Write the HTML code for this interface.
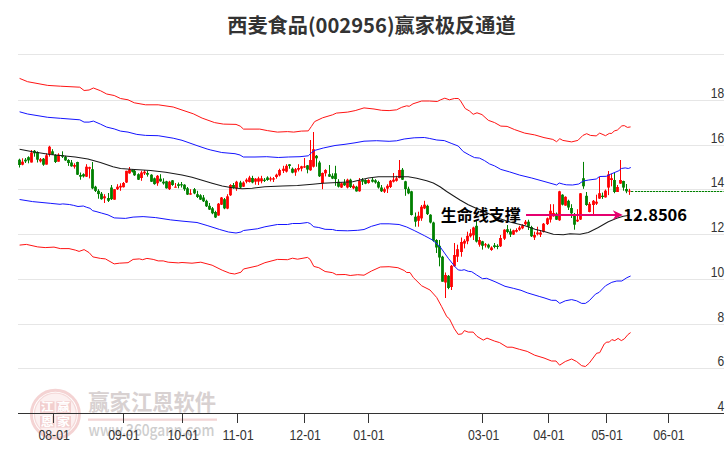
<!DOCTYPE html>
<html lang="zh"><head><meta charset="utf-8"><title>西麦食品(002956)赢家极反通道</title>
<style>
html,body{margin:0;padding:0;background:#fff;}
body{width:726px;height:450px;overflow:hidden;}
svg{display:block;}
.t{font-family:"Liberation Sans","Noto Sans CJK SC",sans-serif;}
.c{font-family:"Noto Sans CJK SC","Liberation Sans",sans-serif;}
</style></head><body>
<svg width="726" height="450" viewBox="0 0 726 450">
<rect width="726" height="450" fill="#fff"/>

<g fill="#e6e6e6">
<rect x="18" y="54" width="706" height="1"/>
<rect x="18" y="100" width="706" height="1"/>
<rect x="18" y="145" width="706" height="1"/>
<rect x="18" y="189" width="706" height="1"/>
<rect x="18" y="234" width="706" height="1"/>
<rect x="18" y="279" width="706" height="1"/>
<rect x="18" y="324" width="706" height="1"/>
<rect x="18" y="368" width="706" height="1"/>
</g>
<g id="wm">
<circle cx="55.4" cy="414.2" r="24" fill="none" stroke="#f4d3d3" stroke-width="3"/>
<circle cx="55.4" cy="414.2" r="21" fill="#fcf0f0" stroke="#f5d9d9" stroke-width="1.2"/>
<g fill="#f2cfcf"><rect x="40" y="401.3" width="14.5" height="11.6"/><rect x="56.3" y="401.3" width="14.7" height="11.6"/><rect x="40" y="416" width="14.5" height="11.6"/><rect x="56.3" y="416" width="14.7" height="11.6"/></g>
<g class="c" font-size="13" font-weight="700" fill="#fff" text-anchor="middle" transform="scale(1,0.85)">
<text x="47.3" y="484">江</text><text x="63.6" y="484">赢</text>
<text x="47.3" y="501.3">恩</text><text x="63.6" y="501.3">家</text></g>
<text class="c" x="88.3" y="410" font-size="21.3" font-weight="700" fill="#d8d1d1">赢家江恩软件</text>
<rect x="88" y="418.5" width="129" height="2.3" fill="#f3d6d6"/>
<text class="c" x="88.6" y="436.1" font-size="16.3" font-weight="500" fill="#cecece" textLength="125.8" lengthAdjust="spacingAndGlyphs">www.360gann.com</text>
</g>
<g fill="#ff0000"><rect x="21.1" y="161.7" width="2.8" height="3.0"/><rect x="22.0" y="158.3" width="1" height="7.0"/><rect x="30.1" y="152.5" width="2.8" height="10.0"/><rect x="31.0" y="150.0" width="1" height="12.5"/><rect x="39.1" y="159.2" width="2.8" height="2.2"/><rect x="40.0" y="158.0" width="1" height="4.5"/><rect x="45.1" y="155.3" width="2.8" height="9.3"/><rect x="46.0" y="153.3" width="1" height="11.3"/><rect x="48.1" y="146.7" width="2.8" height="7.5"/><rect x="49.0" y="145.8" width="1" height="10.8"/><rect x="57.1" y="154.7" width="2.8" height="7.0"/><rect x="58.0" y="153.3" width="1" height="8.3"/><rect x="73.1" y="165.0" width="2.8" height="1.7"/><rect x="74.0" y="163.3" width="1" height="5.3"/><rect x="85.1" y="166.7" width="2.8" height="10.0"/><rect x="86.0" y="164.2" width="1" height="12.8"/><rect x="88.1" y="167.2" width="2.8" height="1.5"/><rect x="89.0" y="166.7" width="1" height="11.7"/><rect x="103.1" y="196.3" width="2.8" height="2.0"/><rect x="104.0" y="194.2" width="1" height="8.8"/><rect x="113.1" y="189.2" width="2.8" height="10.5"/><rect x="114.0" y="189.2" width="1" height="10.5"/><rect x="116.1" y="186.7" width="2.8" height="2.5"/><rect x="117.0" y="184.2" width="1" height="5.8"/><rect x="119.1" y="185.8" width="2.8" height="1.7"/><rect x="120.0" y="183.3" width="1" height="7.5"/><rect x="122.1" y="183.0" width="2.8" height="4.2"/><rect x="123.0" y="182.0" width="1" height="5.5"/><rect x="125.1" y="170.8" width="2.8" height="11.7"/><rect x="126.0" y="170.8" width="1" height="12.2"/><rect x="128.1" y="169.2" width="2.8" height="4.2"/><rect x="129.0" y="167.0" width="1" height="6.7"/><rect x="140.1" y="172.5" width="2.8" height="5.5"/><rect x="141.0" y="170.8" width="1" height="10.0"/><rect x="143.1" y="171.7" width="2.8" height="1.7"/><rect x="144.0" y="170.0" width="1" height="5.0"/><rect x="156.1" y="175.8" width="2.8" height="7.5"/><rect x="157.0" y="175.0" width="1" height="10.8"/><rect x="168.1" y="181.7" width="2.8" height="7.5"/><rect x="169.0" y="180.8" width="1" height="9.2"/><rect x="174.1" y="186.7" width="2.8" height="1.0"/><rect x="175.0" y="183.0" width="1" height="4.5"/><rect x="189.1" y="193.3" width="2.8" height="1.3"/><rect x="190.0" y="189.2" width="1" height="5.5"/><rect x="217.1" y="203.7" width="2.8" height="11.8"/><rect x="218.0" y="203.0" width="1" height="12.8"/><rect x="220.1" y="197.5" width="2.8" height="7.2"/><rect x="221.0" y="197.0" width="1" height="8.0"/><rect x="226.1" y="196.3" width="2.8" height="12.3"/><rect x="227.0" y="194.2" width="1" height="15.0"/><rect x="229.1" y="185.0" width="2.8" height="10.3"/><rect x="230.0" y="184.2" width="1" height="11.7"/><rect x="235.1" y="181.7" width="2.8" height="6.7"/><rect x="236.0" y="180.8" width="1" height="10.0"/><rect x="242.1" y="182.5" width="2.8" height="4.2"/><rect x="243.0" y="181.3" width="1" height="5.7"/><rect x="245.1" y="179.7" width="2.8" height="2.0"/><rect x="246.0" y="178.3" width="1" height="5.0"/><rect x="248.1" y="177.5" width="2.8" height="4.5"/><rect x="249.0" y="175.8" width="1" height="6.7"/><rect x="254.1" y="178.7" width="2.8" height="3.0"/><rect x="255.0" y="178.0" width="1" height="6.7"/><rect x="257.1" y="178.3" width="2.8" height="3.3"/><rect x="258.0" y="176.7" width="1" height="8.3"/><rect x="260.1" y="178.3" width="2.8" height="3.0"/><rect x="261.0" y="175.8" width="1" height="7.5"/><rect x="269.1" y="178.3" width="2.8" height="1.3"/><rect x="270.0" y="176.7" width="1" height="4.7"/><rect x="272.1" y="178.3" width="2.8" height="1.3"/><rect x="273.0" y="177.0" width="1" height="5.0"/><rect x="275.1" y="174.7" width="2.8" height="2.3"/><rect x="276.0" y="173.7" width="1" height="5.0"/><rect x="278.1" y="170.0" width="2.8" height="5.3"/><rect x="279.0" y="168.7" width="1" height="7.7"/><rect x="282.1" y="168.7" width="2.8" height="2.2"/><rect x="283.0" y="165.8" width="1" height="7.2"/><rect x="285.1" y="165.8" width="2.8" height="5.8"/><rect x="286.0" y="164.2" width="1" height="8.3"/><rect x="294.1" y="169.2" width="2.8" height="3.3"/><rect x="295.0" y="168.0" width="1" height="7.8"/><rect x="297.1" y="168.0" width="2.8" height="1.7"/><rect x="298.0" y="164.2" width="1" height="7.2"/><rect x="300.1" y="166.3" width="2.8" height="2.3"/><rect x="301.0" y="165.8" width="1" height="5.5"/><rect x="303.1" y="166.3" width="2.8" height="1.2"/><rect x="304.0" y="158.0" width="1" height="10.0"/><rect x="309.1" y="160.0" width="2.8" height="10.3"/><rect x="310.0" y="140.0" width="1" height="30.8"/><rect x="312.1" y="149.2" width="2.8" height="17.5"/><rect x="313.0" y="132.0" width="1" height="35.5"/><rect x="321.1" y="173.0" width="2.8" height="10.3"/><rect x="322.0" y="172.5" width="1" height="16.7"/><rect x="324.1" y="170.0" width="2.8" height="3.3"/><rect x="325.0" y="169.2" width="1" height="7.2"/><rect x="340.1" y="183.3" width="2.8" height="4.2"/><rect x="341.0" y="182.5" width="1" height="5.5"/><rect x="346.1" y="179.7" width="2.8" height="7.8"/><rect x="347.0" y="178.7" width="1" height="9.7"/><rect x="352.1" y="185.8" width="2.8" height="2.5"/><rect x="353.0" y="184.2" width="1" height="5.0"/><rect x="358.1" y="180.8" width="2.8" height="10.5"/><rect x="359.0" y="178.0" width="1" height="13.7"/><rect x="367.1" y="180.0" width="2.8" height="3.0"/><rect x="368.0" y="179.2" width="1" height="4.5"/><rect x="383.1" y="189.2" width="2.8" height="2.5"/><rect x="384.0" y="187.5" width="1" height="5.5"/><rect x="386.1" y="185.8" width="2.8" height="2.8"/><rect x="387.0" y="184.2" width="1" height="8.8"/><rect x="389.1" y="180.8" width="2.8" height="6.2"/><rect x="390.0" y="180.0" width="1" height="8.0"/><rect x="392.1" y="179.7" width="2.8" height="2.0"/><rect x="393.0" y="173.0" width="1" height="9.5"/><rect x="395.1" y="178.3" width="2.8" height="2.5"/><rect x="396.0" y="175.8" width="1" height="5.8"/><rect x="398.1" y="170.0" width="2.8" height="8.0"/><rect x="399.0" y="160.0" width="1" height="18.3"/><rect x="417.1" y="215.8" width="2.8" height="5.0"/><rect x="418.0" y="211.7" width="1" height="15.0"/><rect x="420.1" y="206.7" width="2.8" height="11.7"/><rect x="421.0" y="205.0" width="1" height="15.8"/><rect x="423.1" y="204.7" width="2.8" height="3.7"/><rect x="424.0" y="200.8" width="1" height="8.3"/><rect x="444.1" y="275.0" width="2.8" height="7.5"/><rect x="445.0" y="272.5" width="1" height="25.5"/><rect x="450.1" y="265.8" width="2.8" height="21.2"/><rect x="451.0" y="265.0" width="1" height="25.0"/><rect x="453.1" y="255.0" width="2.8" height="11.3"/><rect x="454.0" y="243.0" width="1" height="23.7"/><rect x="456.1" y="249.2" width="2.8" height="7.5"/><rect x="457.0" y="244.7" width="1" height="17.3"/><rect x="460.1" y="242.0" width="2.8" height="10.0"/><rect x="461.0" y="237.5" width="1" height="19.2"/><rect x="463.1" y="240.8" width="2.8" height="2.8"/><rect x="464.0" y="239.2" width="1" height="9.2"/><rect x="466.1" y="235.8" width="2.8" height="5.5"/><rect x="467.0" y="231.7" width="1" height="12.5"/><rect x="469.1" y="233.3" width="2.8" height="3.0"/><rect x="470.0" y="229.2" width="1" height="8.3"/><rect x="472.1" y="227.5" width="2.8" height="7.8"/><rect x="473.0" y="226.7" width="1" height="13.3"/><rect x="478.1" y="240.0" width="2.8" height="4.7"/><rect x="479.0" y="237.0" width="1" height="9.7"/><rect x="484.1" y="244.2" width="2.8" height="1.2"/><rect x="485.0" y="243.0" width="1" height="4.5"/><rect x="490.1" y="247.5" width="2.8" height="2.5"/><rect x="491.0" y="246.3" width="1" height="4.5"/><rect x="499.1" y="238.0" width="2.8" height="8.3"/><rect x="500.0" y="235.0" width="1" height="12.0"/><rect x="503.1" y="229.7" width="2.8" height="9.0"/><rect x="504.0" y="229.2" width="1" height="10.8"/><rect x="512.1" y="230.3" width="2.8" height="4.3"/><rect x="513.0" y="229.7" width="1" height="5.3"/><rect x="515.1" y="230.0" width="2.8" height="1.7"/><rect x="516.0" y="228.3" width="1" height="4.2"/><rect x="518.1" y="227.5" width="2.8" height="2.2"/><rect x="519.0" y="225.8" width="1" height="5.0"/><rect x="521.1" y="225.3" width="2.8" height="3.0"/><rect x="522.0" y="224.2" width="1" height="5.0"/><rect x="524.1" y="221.7" width="2.8" height="2.5"/><rect x="525.0" y="220.0" width="1" height="5.0"/><rect x="533.1" y="235.0" width="2.8" height="2.5"/><rect x="534.0" y="231.7" width="1" height="8.3"/><rect x="536.1" y="232.5" width="2.8" height="1.7"/><rect x="537.0" y="226.7" width="1" height="8.7"/><rect x="539.1" y="232.5" width="2.8" height="2.2"/><rect x="540.0" y="230.0" width="1" height="7.0"/><rect x="542.1" y="223.7" width="2.8" height="8.0"/><rect x="543.0" y="223.0" width="1" height="9.5"/><rect x="546.1" y="218.3" width="2.8" height="5.8"/><rect x="547.0" y="217.5" width="1" height="7.5"/><rect x="549.1" y="210.8" width="2.8" height="8.8"/><rect x="550.0" y="204.2" width="1" height="18.3"/><rect x="552.1" y="213.0" width="2.8" height="3.3"/><rect x="553.0" y="204.2" width="1" height="12.5"/><rect x="558.1" y="191.3" width="2.8" height="29.0"/><rect x="559.0" y="190.8" width="1" height="30.0"/><rect x="564.1" y="196.8" width="2.8" height="8.8"/><rect x="565.0" y="196.3" width="1" height="9.5"/><rect x="576.1" y="219.7" width="2.8" height="1.7"/><rect x="577.0" y="209.2" width="1" height="12.8"/><rect x="579.1" y="193.3" width="2.8" height="26.3"/><rect x="580.0" y="193.0" width="1" height="27.0"/><rect x="588.1" y="203.8" width="2.8" height="8.2"/><rect x="589.0" y="202.0" width="1" height="10.3"/><rect x="592.1" y="200.8" width="2.8" height="4.2"/><rect x="593.0" y="200.0" width="1" height="14.2"/><rect x="595.1" y="201.7" width="2.8" height="2.0"/><rect x="596.0" y="194.7" width="1" height="10.3"/><rect x="598.1" y="193.2" width="2.8" height="5.4"/><rect x="599.0" y="177.0" width="1" height="21.9"/><rect x="604.1" y="190.7" width="2.8" height="6.7"/><rect x="605.0" y="189.5" width="1" height="8.1"/><rect x="607.1" y="174.4" width="2.8" height="13.2"/><rect x="608.0" y="171.0" width="1" height="24.1"/><rect x="610.1" y="178.2" width="2.8" height="1.8"/><rect x="611.0" y="173.8" width="1" height="12.5"/><rect x="616.1" y="187.0" width="2.8" height="5.0"/><rect x="617.0" y="185.0" width="1" height="7.0"/><rect x="619.1" y="180.0" width="2.8" height="3.6"/><rect x="620.0" y="160.0" width="1" height="23.8"/><rect x="628.1" y="190.7" width="2.8" height="1.0"/><rect x="629.0" y="188.8" width="1" height="6.1"/></g>
<g fill="#008000"><rect x="18.1" y="159.7" width="2.8" height="5.3"/><rect x="19.0" y="158.7" width="1" height="8.8"/><rect x="24.1" y="159.7" width="2.8" height="1.7"/><rect x="25.0" y="158.0" width="1" height="5.0"/><rect x="27.1" y="157.2" width="2.8" height="3.2"/><rect x="28.0" y="156.3" width="1" height="7.0"/><rect x="33.1" y="150.8" width="2.8" height="2.5"/><rect x="34.0" y="150.0" width="1" height="6.7"/><rect x="36.1" y="152.0" width="2.8" height="7.7"/><rect x="37.0" y="151.3" width="1" height="11.2"/><rect x="42.1" y="158.7" width="2.8" height="6.0"/><rect x="43.0" y="158.0" width="1" height="7.8"/><rect x="51.1" y="151.3" width="2.8" height="3.3"/><rect x="52.0" y="149.2" width="1" height="5.8"/><rect x="54.1" y="155.0" width="2.8" height="7.0"/><rect x="55.0" y="154.2" width="1" height="8.8"/><rect x="61.1" y="155.0" width="2.8" height="1.7"/><rect x="62.0" y="151.3" width="1" height="6.7"/><rect x="64.1" y="156.7" width="2.8" height="3.7"/><rect x="65.0" y="155.8" width="1" height="5.0"/><rect x="67.1" y="160.0" width="2.8" height="3.0"/><rect x="68.0" y="159.2" width="1" height="6.7"/><rect x="70.1" y="162.5" width="2.8" height="3.8"/><rect x="71.0" y="160.0" width="1" height="6.7"/><rect x="76.1" y="162.0" width="2.8" height="12.7"/><rect x="77.0" y="161.7" width="1" height="13.3"/><rect x="79.1" y="175.0" width="2.8" height="1.7"/><rect x="80.0" y="172.5" width="1" height="7.2"/><rect x="82.1" y="174.2" width="2.8" height="2.2"/><rect x="83.0" y="173.3" width="1" height="4.2"/><rect x="91.1" y="169.2" width="2.8" height="19.2"/><rect x="92.0" y="162.0" width="1" height="27.2"/><rect x="94.1" y="186.7" width="2.8" height="4.2"/><rect x="95.0" y="185.8" width="1" height="6.2"/><rect x="97.1" y="190.8" width="2.8" height="3.3"/><rect x="98.0" y="189.2" width="1" height="9.5"/><rect x="100.1" y="193.7" width="2.8" height="5.5"/><rect x="101.0" y="192.0" width="1" height="7.7"/><rect x="107.1" y="198.0" width="2.8" height="2.8"/><rect x="108.0" y="193.0" width="1" height="9.0"/><rect x="110.1" y="187.5" width="2.8" height="11.7"/><rect x="111.0" y="185.0" width="1" height="15.0"/><rect x="131.1" y="170.0" width="2.8" height="1.7"/><rect x="132.0" y="169.2" width="1" height="3.3"/><rect x="133.1" y="170.8" width="2.8" height="4.5"/><rect x="134.0" y="169.7" width="1" height="6.2"/><rect x="137.1" y="174.2" width="2.8" height="5.5"/><rect x="138.0" y="173.3" width="1" height="6.7"/><rect x="146.1" y="173.0" width="2.8" height="1.7"/><rect x="147.0" y="170.8" width="1" height="5.8"/><rect x="150.1" y="174.7" width="2.8" height="7.0"/><rect x="151.0" y="174.2" width="1" height="7.8"/><rect x="153.1" y="178.3" width="2.8" height="5.8"/><rect x="154.0" y="177.5" width="1" height="7.2"/><rect x="159.1" y="178.7" width="2.8" height="2.7"/><rect x="160.0" y="174.2" width="1" height="7.5"/><rect x="162.1" y="181.7" width="2.8" height="1.7"/><rect x="163.0" y="178.3" width="1" height="6.3"/><rect x="165.1" y="181.3" width="2.8" height="7.0"/><rect x="166.0" y="180.8" width="1" height="7.8"/><rect x="171.1" y="180.3" width="2.8" height="4.7"/><rect x="172.0" y="180.0" width="1" height="5.8"/><rect x="177.1" y="184.2" width="2.8" height="1.7"/><rect x="178.0" y="182.5" width="1" height="5.8"/><rect x="180.1" y="184.2" width="2.8" height="1.2"/><rect x="181.0" y="182.0" width="1" height="5.5"/><rect x="183.1" y="184.7" width="2.8" height="4.5"/><rect x="184.0" y="184.2" width="1" height="6.7"/><rect x="186.1" y="188.3" width="2.8" height="6.3"/><rect x="187.0" y="187.0" width="1" height="8.0"/><rect x="193.1" y="189.2" width="2.8" height="4.2"/><rect x="194.0" y="188.0" width="1" height="6.2"/><rect x="196.1" y="194.2" width="2.8" height="2.8"/><rect x="197.0" y="190.8" width="1" height="7.2"/><rect x="199.1" y="195.3" width="2.8" height="4.3"/><rect x="200.0" y="194.2" width="1" height="5.8"/><rect x="202.1" y="197.5" width="2.8" height="3.8"/><rect x="203.0" y="195.0" width="1" height="7.0"/><rect x="205.1" y="200.8" width="2.8" height="5.5"/><rect x="206.0" y="199.7" width="1" height="7.3"/><rect x="208.1" y="205.8" width="2.8" height="3.8"/><rect x="209.0" y="203.0" width="1" height="7.0"/><rect x="211.1" y="208.3" width="2.8" height="5.0"/><rect x="212.0" y="207.0" width="1" height="7.2"/><rect x="214.1" y="212.0" width="2.8" height="5.5"/><rect x="215.0" y="210.8" width="1" height="7.2"/><rect x="223.1" y="199.2" width="2.8" height="9.2"/><rect x="224.0" y="198.0" width="1" height="11.2"/><rect x="232.1" y="185.0" width="2.8" height="3.0"/><rect x="233.0" y="183.0" width="1" height="5.7"/><rect x="239.1" y="182.5" width="2.8" height="5.0"/><rect x="240.0" y="180.8" width="1" height="7.5"/><rect x="251.1" y="178.0" width="2.8" height="4.5"/><rect x="252.0" y="175.8" width="1" height="7.5"/><rect x="263.1" y="179.7" width="2.8" height="1.2"/><rect x="264.0" y="178.0" width="1" height="4.0"/><rect x="266.1" y="177.5" width="2.8" height="2.5"/><rect x="267.0" y="176.3" width="1" height="4.5"/><rect x="288.1" y="164.3" width="2.8" height="1.7"/><rect x="289.0" y="164.2" width="1" height="4.5"/><rect x="291.1" y="168.7" width="2.8" height="4.0"/><rect x="292.0" y="167.5" width="1" height="5.8"/><rect x="306.1" y="165.3" width="2.8" height="4.3"/><rect x="307.0" y="165.0" width="1" height="8.3"/><rect x="315.1" y="155.8" width="2.8" height="2.5"/><rect x="316.0" y="155.0" width="1" height="11.7"/><rect x="318.1" y="162.5" width="2.8" height="13.8"/><rect x="319.0" y="160.8" width="1" height="16.2"/><rect x="328.1" y="174.2" width="2.8" height="2.5"/><rect x="329.0" y="165.0" width="1" height="12.0"/><rect x="331.1" y="175.8" width="2.8" height="2.8"/><rect x="332.0" y="173.3" width="1" height="5.8"/><rect x="334.1" y="173.3" width="2.8" height="5.8"/><rect x="335.0" y="165.8" width="1" height="20.0"/><rect x="337.1" y="181.7" width="2.8" height="5.0"/><rect x="338.0" y="179.2" width="1" height="8.3"/><rect x="343.1" y="182.5" width="2.8" height="2.8"/><rect x="344.0" y="179.2" width="1" height="6.7"/><rect x="349.1" y="179.7" width="2.8" height="7.3"/><rect x="350.0" y="178.7" width="1" height="9.3"/><rect x="355.1" y="186.7" width="2.8" height="4.7"/><rect x="356.0" y="185.8" width="1" height="5.8"/><rect x="361.1" y="180.0" width="2.8" height="1.7"/><rect x="362.0" y="178.0" width="1" height="7.0"/><rect x="364.1" y="180.0" width="2.8" height="3.7"/><rect x="365.0" y="179.2" width="1" height="5.0"/><rect x="371.1" y="179.7" width="2.8" height="2.0"/><rect x="372.0" y="177.5" width="1" height="5.0"/><rect x="374.1" y="180.3" width="2.8" height="2.2"/><rect x="375.0" y="179.2" width="1" height="4.5"/><rect x="377.1" y="182.0" width="2.8" height="5.5"/><rect x="378.0" y="180.8" width="1" height="7.8"/><rect x="380.1" y="187.5" width="2.8" height="3.8"/><rect x="381.0" y="185.0" width="1" height="7.0"/><rect x="401.1" y="169.7" width="2.8" height="10.0"/><rect x="402.0" y="168.0" width="1" height="12.0"/><rect x="404.1" y="181.3" width="2.8" height="7.8"/><rect x="405.0" y="180.8" width="1" height="15.0"/><rect x="407.1" y="188.7" width="2.8" height="4.7"/><rect x="408.0" y="186.7" width="1" height="7.5"/><rect x="410.1" y="191.3" width="2.8" height="23.7"/><rect x="411.0" y="190.8" width="1" height="24.7"/><rect x="414.1" y="216.7" width="2.8" height="5.0"/><rect x="415.0" y="212.5" width="1" height="14.2"/><rect x="426.1" y="205.8" width="2.8" height="8.3"/><rect x="427.0" y="204.7" width="1" height="10.3"/><rect x="429.1" y="214.7" width="2.8" height="7.8"/><rect x="430.0" y="214.2" width="1" height="9.2"/><rect x="432.1" y="222.5" width="2.8" height="18.3"/><rect x="433.0" y="221.7" width="1" height="20.0"/><rect x="435.1" y="240.0" width="2.8" height="7.5"/><rect x="436.0" y="239.2" width="1" height="13.8"/><rect x="438.1" y="245.8" width="2.8" height="11.7"/><rect x="439.0" y="240.0" width="1" height="26.3"/><rect x="441.1" y="256.7" width="2.8" height="25.0"/><rect x="442.0" y="255.8" width="1" height="25.9"/><rect x="447.1" y="275.8" width="2.8" height="12.2"/><rect x="448.0" y="275.0" width="1" height="14.2"/><rect x="475.1" y="225.8" width="2.8" height="15.8"/><rect x="476.0" y="220.8" width="1" height="21.7"/><rect x="481.1" y="241.3" width="2.8" height="4.5"/><rect x="482.0" y="240.8" width="1" height="8.8"/><rect x="487.1" y="244.7" width="2.8" height="2.8"/><rect x="488.0" y="243.7" width="1" height="5.0"/><rect x="493.1" y="245.3" width="2.8" height="1.7"/><rect x="494.0" y="243.0" width="1" height="5.3"/><rect x="496.1" y="245.8" width="2.8" height="1.2"/><rect x="497.0" y="244.2" width="1" height="5.0"/><rect x="506.1" y="229.2" width="2.8" height="2.8"/><rect x="507.0" y="225.0" width="1" height="8.3"/><rect x="509.1" y="231.3" width="2.8" height="3.3"/><rect x="510.0" y="228.7" width="1" height="8.3"/><rect x="527.1" y="221.7" width="2.8" height="5.0"/><rect x="528.0" y="219.7" width="1" height="10.3"/><rect x="530.1" y="227.0" width="2.8" height="9.3"/><rect x="531.0" y="225.8" width="1" height="11.2"/><rect x="555.1" y="213.7" width="2.8" height="6.0"/><rect x="556.0" y="212.5" width="1" height="7.5"/><rect x="561.1" y="194.7" width="2.8" height="10.0"/><rect x="562.0" y="194.2" width="1" height="11.2"/><rect x="567.1" y="200.8" width="2.8" height="6.7"/><rect x="568.0" y="199.7" width="1" height="10.3"/><rect x="570.1" y="208.0" width="2.8" height="5.3"/><rect x="571.0" y="204.2" width="1" height="13.8"/><rect x="573.1" y="215.0" width="2.8" height="9.7"/><rect x="574.0" y="213.0" width="1" height="16.7"/><rect x="582.1" y="178.2" width="2.8" height="8.1"/><rect x="583.0" y="161.9" width="1" height="26.9"/><rect x="585.1" y="195.8" width="2.8" height="9.2"/><rect x="586.0" y="192.0" width="1" height="13.8"/><rect x="601.1" y="195.7" width="2.8" height="1.3"/><rect x="602.0" y="192.6" width="1" height="6.3"/><rect x="613.1" y="180.0" width="2.8" height="12.0"/><rect x="614.0" y="172.6" width="1" height="20.6"/><rect x="622.1" y="181.0" width="2.8" height="6.6"/><rect x="623.0" y="180.7" width="1" height="10.0"/><rect x="625.1" y="189.0" width="2.8" height="2.4"/><rect x="626.0" y="184.0" width="1" height="9.2"/></g>
<g fill="none" stroke-width="1" stroke-linejoin="round">
<path d="M19.6,78.4 L27.6,81.7 L47.7,85.4 L60.3,86.2 L79.8,87.2 L84.1,90.5 L89.1,90.0 L93.4,88.0 L100.4,90.7 L106.7,94.0 L114.2,95.5 L120.5,98.5 L128.0,99.8 L134.3,102.8 L145.6,104.8 L158.2,104.8 L173.2,107.0 L182.0,110.0 L193.3,113.8 L202.1,118.1 L214.6,122.6 L223.4,124.1 L236.0,124.4 L240.2,126.1 L243.5,129.1 L259.8,129.1 L267.4,130.6 L277.4,132.1 L287.5,131.6 L293.7,132.1 L301.3,131.1 L308.3,130.9 L311.3,126.6 L314.6,121.6 L322.6,117.8 L332.6,114.8 L336.4,113.1 L347.7,112.1 L355.2,110.6 L364.0,107.9 L374.0,109.0 L381.6,110.3 L389.1,110.6 L396.6,109.8 L401.7,107.3 L406.7,105.8 L409.2,106.3 L413.0,103.8 L421.7,101.0 L429.3,101.0 L437.3,101.5 L440.6,99.8 L444.8,98.2 L449.4,99.8 L454.4,98.5 L458.2,98.5 L460.2,100.3 L465.2,108.5 L469.5,111.0 L473.2,114.3 L477.0,112.8 L482.0,114.6 L488.3,120.3 L494.6,122.6 L500.8,126.1 L507.1,126.4 L514.6,129.6 L524.7,133.1 L534.7,134.9 L544.0,137.6 L552.8,139.4 L556.6,141.7 L559.8,138.7 L562.8,140.4 L571.6,141.9 L577.9,140.4 L582.9,135.4 L586.7,133.7 L590.4,135.4 L596.2,135.9 L599.7,133.1 L605.5,135.7 L609.3,133.4 L611.8,133.4 L614.3,130.9 L617.3,130.1 L621.8,125.9 L624.3,125.6 L627.4,127.4 L630.6,126.9" stroke="#ff1414"/>
<path d="M19.6,245.1 L26.4,244.4 L37.7,246.9 L45.2,247.6 L54.0,247.1 L60.3,248.6 L69.0,248.6 L75.3,250.1 L79.1,251.4 L84.1,249.6 L89.1,252.6 L92.9,256.9 L100.4,258.4 L105.4,258.9 L114.2,263.9 L119.3,263.2 L128.0,262.7 L133.1,259.4 L139.3,258.9 L142.6,259.7 L146.9,258.4 L153.2,259.4 L158.2,260.9 L163.2,260.9 L168.2,262.2 L178.3,262.9 L182.0,262.5 L192.0,263.2 L200.8,262.2 L212.1,265.2 L222.2,270.2 L229.7,273.2 L234.7,274.0 L241.0,272.2 L243.5,269.0 L257.3,265.9 L264.9,262.7 L277.4,259.4 L287.5,259.7 L292.5,258.2 L297.5,259.2 L307.5,257.4 L310.1,259.4 L313.8,266.4 L318.8,267.7 L325.1,271.5 L332.6,272.7 L336.4,274.7 L345.2,274.5 L350.2,275.5 L357.7,274.7 L364.0,275.2 L371.5,271.0 L380.3,267.0 L389.1,266.7 L397.9,267.7 L404.2,270.5 L406.7,272.5 L410.0,272.5 L413.3,277.5 L421.7,285.8 L430.0,290.0 L436.7,297.5 L441.7,306.7 L446.8,316.7 L449.4,318.8 L454.4,328.8 L458.2,334.4 L461.9,333.9 L464.4,330.6 L468.2,332.1 L473.2,332.1 L477.0,336.4 L483.3,340.1 L487.0,338.1 L494.6,341.1 L499.6,342.6 L507.1,347.2 L512.1,347.2 L519.7,349.4 L527.2,351.4 L534.7,355.2 L544.0,358.0 L551.5,361.0 L556.0,361.0 L559.6,365.2 L565.3,361.5 L571.6,359.0 L576.6,361.5 L581.7,365.7 L585.4,366.5 L589.2,363.2 L596.7,353.2 L599.7,352.7 L604.3,343.9 L606.8,342.1 L609.3,342.1 L611.8,339.6 L614.8,340.6 L618.1,338.4 L621.3,340.6 L624.3,338.9 L628.1,334.4 L630.6,332.6" stroke="#ff1414"/>
<path d="M19.6,111.8 L27.6,114.0 L47.7,117.3 L60.3,118.3 L79.8,119.8 L84.1,122.1 L89.1,122.1 L93.4,121.1 L100.4,124.1 L106.7,127.1 L114.2,128.9 L120.5,131.1 L128.0,132.1 L136.8,134.4 L145.6,135.4 L158.2,135.7 L173.2,138.2 L182.0,140.3 L197.0,145.6 L207.1,149.0 L210.8,150.0 L221.7,152.5 L235.0,153.7 L240.0,155.0 L243.3,157.0 L255.0,157.0 L266.7,156.7 L278.3,157.5 L288.3,157.0 L300.0,156.7 L308.3,155.8 L311.7,152.5 L315.0,150.3 L323.3,148.0 L335.0,145.5 L345.0,144.3 L355.0,142.8 L364.0,141.2 L376.6,140.7 L389.1,141.3 L396.6,140.8 L404.2,139.0 L414.2,137.8 L424.3,137.5 L429.3,138.4 L436.8,140.0 L444.3,140.6 L451.9,143.6 L458.2,146.0 L463.2,151.5 L469.5,155.1 L474.5,157.6 L479.5,158.1 L484.5,160.6 L489.5,163.9 L494.6,165.9 L500.8,169.4 L509.6,171.9 L519.7,175.1 L531.7,178.0 L545.0,181.7 L556.7,185.0 L559.2,183.0 L563.3,184.2 L566.3,184.8 L572.5,185.0 L578.8,184.0 L583.2,181.0 L588.8,180.0 L596.3,179.0 L599.5,176.5 L606.4,176.3 L610.1,174.4 L615.1,172.3 L618.9,170.7 L621.4,168.5 L625.2,167.9 L628.3,168.5 L630.8,167.5" stroke="#1414ff"/>
<path d="M19.6,199.5 L32.6,201.6 L50.2,203.3 L60.0,204.3 L62.7,203.9 L69.3,204.5 L73.3,205.3 L78.0,206.5 L83.3,206.0 L86.7,207.3 L90.0,208.3 L92.7,210.7 L96.0,211.5 L101.3,213.0 L108.0,214.9 L114.2,217.9 L125.5,218.4 L133.1,217.1 L143.1,216.6 L155.7,217.6 L170.7,219.9 L182.0,221.1 L197.0,222.5 L207.1,225.5 L219.7,229.5 L228.5,232.0 L236.0,233.0 L241.0,232.0 L243.5,230.5 L257.3,228.8 L264.9,226.8 L277.4,224.5 L287.5,224.5 L292.5,223.5 L300.0,223.5 L307.5,222.5 L310.1,223.5 L313.8,226.8 L318.8,227.5 L325.1,229.3 L332.6,229.5 L336.4,230.5 L347.7,230.8 L357.7,230.3 L364.0,229.5 L371.5,226.3 L380.3,223.8 L389.1,223.8 L399.1,224.5 L406.7,227.0 L414.2,230.5 L424.3,235.6 L432.5,240.0 L440.0,246.7 L448.3,258.3 L455.0,266.7 L458.3,270.0 L461.7,270.3 L464.2,269.7 L468.3,271.3 L471.7,271.7 L476.7,275.0 L482.5,278.7 L486.7,278.3 L495.0,281.7 L505.0,286.3 L513.3,288.3 L521.0,290.3 L527.2,292.8 L539.8,296.6 L544.0,297.8 L551.5,300.3 L556.0,300.3 L559.8,303.4 L565.3,300.8 L571.6,299.6 L576.6,300.8 L581.7,303.4 L585.4,303.4 L589.2,300.8 L595.5,294.1 L599.2,292.3 L605.5,285.8 L611.8,282.3 L616.8,281.0 L621.8,281.0 L626.9,277.7 L630.6,276.0" stroke="#1414ff"/>
<path d="M19.6,149.3 L32.6,151.8 L50.2,154.4 L75.3,156.9 L87.9,158.9 L100.4,162.4 L113.0,166.7 L120.5,168.4 L130.6,169.2 L150.6,170.4 L165.7,172.2 L182.0,175.0 L192.0,177.2 L202.1,180.2 L212.1,183.2 L222.2,186.0 L232.2,187.7 L242.3,188.7 L252.3,188.2 L264.9,186.7 L282.4,186.0 L297.5,185.5 L312.6,184.2 L322.6,183.2 L337.7,182.5 L352.7,181.7 L360.0,180.0 L368.3,178.0 L378.3,176.8 L393.3,176.7 L408.3,176.7 L416.7,178.2 L426.7,180.8 L433.3,183.0 L440.0,186.7 L446.7,191.5 L453.3,195.8 L460.0,200.0 L468.3,204.7 L476.7,208.5 L481.0,210.0 L490.0,214.2 L500.0,218.8 L510.0,222.0 L515.0,223.2 L525.0,225.8 L535.0,229.2 L545.0,231.7 L553.3,234.2 L563.3,234.7 L570.0,233.7 L580.0,234.3 L588.3,232.5 L598.3,227.5 L608.3,221.7 L616.7,218.3 L623.3,216.2 L629.5,215.2" stroke="#1a1a1a" stroke-width="1.05"/>
</g>
<path d="M631,191.5 H633.4 M635,191.5 H679.6 M681,191.5 H723.5" stroke="#008000" stroke-width="1" stroke-dasharray="2.3,0.7" fill="none"/>
<rect x="18" y="413" width="706" height="1" fill="#333"/>
<g fill="#333">
<rect x="53" y="413" width="1" height="10"/>
<rect x="123" y="413" width="1" height="10"/>
<rect x="182" y="413" width="1" height="10"/>
<rect x="237" y="413" width="1" height="10"/>
<rect x="304" y="413" width="1" height="10"/>
<rect x="368" y="413" width="1" height="10"/>
<rect x="482" y="413" width="1" height="10"/>
<rect x="548" y="413" width="1" height="10"/>
<rect x="606" y="413" width="1" height="10"/>
<rect x="668" y="413" width="1" height="10"/>
</g>
<g class="t" font-size="14" fill="#333" text-anchor="middle">
<text x="54.1" y="439.6" textLength="31.4" lengthAdjust="spacingAndGlyphs">08-01</text>
<text x="123.9" y="439.6" textLength="31.4" lengthAdjust="spacingAndGlyphs">09-01</text>
<text x="183.1" y="439.6" textLength="31.4" lengthAdjust="spacingAndGlyphs">10-01</text>
<text x="238.1" y="439.6" textLength="31.4" lengthAdjust="spacingAndGlyphs">11-01</text>
<text x="305.2" y="439.6" textLength="31.4" lengthAdjust="spacingAndGlyphs">12-01</text>
<text x="368.9" y="439.6" textLength="31.4" lengthAdjust="spacingAndGlyphs">01-01</text>
<text x="483.6" y="439.6" textLength="31.4" lengthAdjust="spacingAndGlyphs">03-01</text>
<text x="548.9" y="439.6" textLength="31.4" lengthAdjust="spacingAndGlyphs">04-01</text>
<text x="607.1" y="439.6" textLength="31.4" lengthAdjust="spacingAndGlyphs">05-01</text>
<text x="668.9" y="439.6" textLength="31.4" lengthAdjust="spacingAndGlyphs">06-01</text>
</g>
<g class="t" font-size="14" fill="#333" text-anchor="end">
<text x="724.2" y="97.6" textLength="13.4" lengthAdjust="spacingAndGlyphs">18</text>
<text x="724.2" y="142.6" textLength="13.4" lengthAdjust="spacingAndGlyphs">16</text>
<text x="724.2" y="186.6" textLength="13.4" lengthAdjust="spacingAndGlyphs">14</text>
<text x="724.2" y="231.6" textLength="13.4" lengthAdjust="spacingAndGlyphs">12</text>
<text x="724.2" y="276.6" textLength="13.4" lengthAdjust="spacingAndGlyphs">10</text>
<text x="724.2" y="321.6" textLength="6.7" lengthAdjust="spacingAndGlyphs">8</text>
<text x="724.2" y="365.6" textLength="6.7" lengthAdjust="spacingAndGlyphs">6</text>
<text x="724.2" y="410.6" textLength="6.7" lengthAdjust="spacingAndGlyphs">4</text>
</g>
<g>
<text class="c" x="440.8" y="221" font-size="16" font-weight="700" fill="#000">生命线支撑</text>
<path d="M526,215 H616" stroke="#e5006f" stroke-width="2" fill="none"/>
<path d="M622.8,215 L612.8,210.3 L615.8,215 L612.8,219.7 Z" fill="#e5006f"/>
<text class="c" x="623.3" y="221" font-size="16" font-weight="700" fill="#000" textLength="63.8" lengthAdjust="spacingAndGlyphs">12.8506</text>
</g>
<text class="c" x="371.4" y="33.3" font-size="20.18" font-weight="700" fill="#333" text-anchor="middle">西麦食品(002956)赢家极反通道</text>
</svg></body></html>
